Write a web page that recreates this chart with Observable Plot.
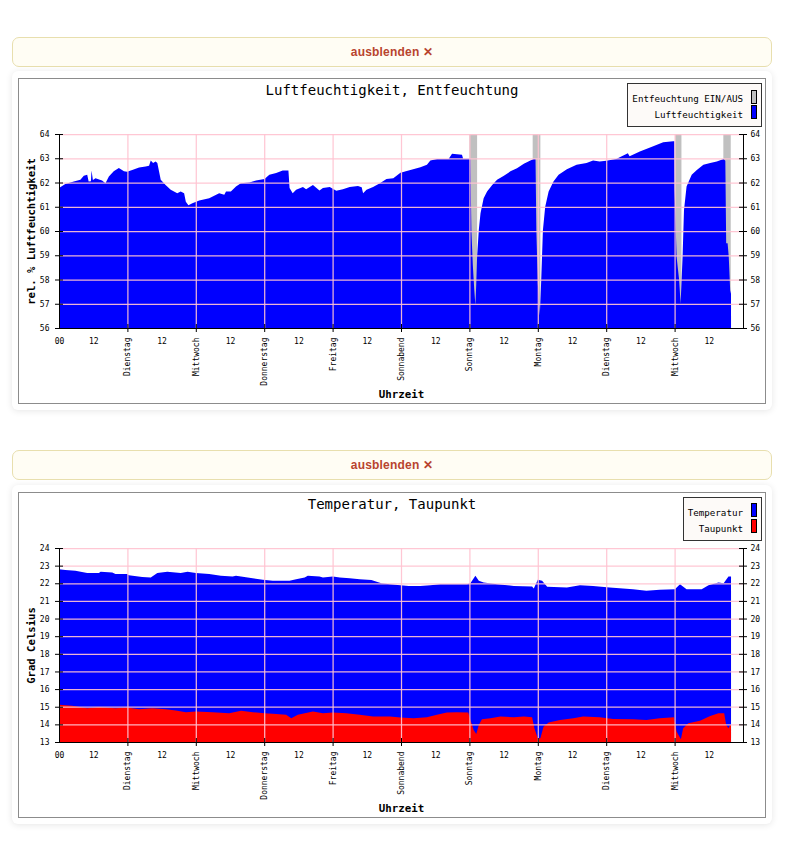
<!DOCTYPE html>
<html>
<head>
<meta charset="utf-8">
<script src="https://cdn.jsdelivr.net/npm/d3@7"></script>
<script src="https://cdn.jsdelivr.net/npm/@observablehq/plot@0.6"></script>
<style>
  html, body { margin: 0; padding: 0; background: #ffffff; width: 788px; height: 843px; overflow: hidden; }
  .btn { position: absolute; left: 12px; width: 760px; height: 30px; box-sizing: border-box;
         border: 1px solid #e8dfae; border-radius: 7px; background: #fffdf4;
         font: bold 12px "Liberation Sans", Arial, sans-serif; color: #b8442e;
         text-align: center; line-height: 28px; letter-spacing: 0.2px; }
  .card { position: absolute; left: 12px; width: 760px; height: 339px; background: #fff;
          border-radius: 6px; box-shadow: 0 1px 7px rgba(0,0,0,0.10); }
  .box { position: absolute; left: 6px; top: 7px; width: 748px; height: 326px; box-sizing: border-box;
         border: 1px solid #8c8c8c; background: #fff; }
  .box svg { position: absolute; left: 0; top: 0; }
  .title { position: absolute; left: 0; top: 3px; width: 746px; text-align: center;
           font: 14px "DejaVu Sans Mono", monospace; color: #000; }
  .legend { position: absolute; right: 3px; top: 4px; height: 44px; box-sizing: border-box;
            border: 1px solid #333; background: #fdfaf8; font: 9.2px "DejaVu Sans Mono", monospace; color: #000; }
  .legend .t { position: absolute; right: 18px; white-space: nowrap; transform: translateY(-50%); }
  .legend .s { position: absolute; right: 4px; width: 6px; height: 14px; box-sizing: border-box; border: 1px solid #000; }
</style>
</head>
<body>
<div class="btn" style="top:37px">ausblenden ✕</div>
<div class="card" style="top:71px"><div class="box" id="box1">
  <div class="title">Luftfeuchtigkeit, Entfeuchtung</div>
</div></div>
<div class="btn" style="top:450px">ausblenden ✕</div>
<div class="card" style="top:484.5px"><div class="box" id="box2">
  <div class="title">Temperatur, Taupunkt</div>
</div></div>
<script>
// ---------- data ----------
// x positions are hours since Monday 00:00
const dayNames = ["Dienstag","Mittwoch","Donnerstag","Freitag","Sonnabend","Sonntag","Montag","Dienstag","Mittwoch"];
const dayTicks = [24, 48, 72, 96, 120, 144, 168, 192, 216];
const hourTicks = [0, 12, 36, 60, 84, 108, 132, 156, 180, 204, 228];
const hourLabels = ["00","12","12","12","12","12","12","12","12","12","12"];
const humTicks = [56, 57, 58, 59, 60, 61, 62, 63, 64];
const tempTicks = [13, 14, 15, 16, 17, 18, 19, 20, 21, 22, 23, 24];

// Luftfeuchtigkeit (rel. %)
const humHours = [0,2.2,5.2,7.5,8.7,9.9,10.4,11.2,11.4,11.9,12.8,15.1,16.3,17.5,19.2,21.0,22.8,23.9,25.7,28.1,30.4,31.6,32.2,33.0,33.9,34.5,35.7,37.4,39.2,41.5,42.7,43.9,44.5,45.4,46.8,49.2,52.7,56.2,58.0,58.6,60.3,62.1,63.8,66.8,69.1,72.1,73.8,76.2,78.5,80.5,80.9,82.0,83.2,85.6,86.7,89.1,91.4,92.6,95.0,97.3,99.6,102.0,104.9,106.2,106.7,107.9,110.2,112.6,114.9,117.3,119.8,123.3,126.8,129.1,130.3,132.7,136.7,137.9,141.4,141.8,144.35,144.7,145.2,145.7,146.1,146.4,146.7,147.3,147.9,149.0,150.2,152.0,153.7,156.1,158.4,160.7,163.1,165.4,166.6,167.2,167.5,168.0,168.7,169.2,169.8,170.6,171.8,173.5,175.3,178.2,181.6,185.1,187.4,189.7,192.0,195.5,199.6,200.2,203.8,208.5,212.0,215.5,215.9,216.0,216.7,217.6,218.1,218.8,219.3,220.2,222.0,223.8,226.1,228.5,230.8,233.2,233.8,234.1,234.6,235.0,235.5,235.8];
const humValues = [61.77,61.94,62.04,62.11,62.28,62.32,62.04,62.05,62.50,62.10,62.18,62.08,61.97,62.25,62.46,62.60,62.46,62.44,62.52,62.62,62.66,62.69,62.91,62.80,62.87,62.80,62.11,61.90,61.70,61.56,61.63,61.56,61.21,61.06,61.14,61.26,61.35,61.56,61.49,61.63,61.63,61.83,61.97,62.00,62.08,62.14,62.32,62.39,62.50,62.50,61.77,61.56,61.70,61.81,61.72,61.90,61.67,61.77,61.81,61.66,61.72,61.81,61.86,61.80,61.56,61.70,61.81,61.97,62.14,62.18,62.40,62.52,62.63,62.73,62.91,62.97,62.97,63.19,63.14,62.98,62.98,60.0,58.6,57.6,56.94,57.8,58.94,60.04,60.73,61.35,61.63,61.90,62.11,62.28,62.46,62.59,62.77,62.91,62.97,62.97,60.0,57.83,56.52,57.97,60.04,61.0,61.63,62.04,62.32,62.55,62.73,62.80,62.91,62.87,62.90,62.97,63.21,63.08,63.28,63.49,63.66,63.70,63.70,61.7,58.94,57.97,57.0,58.94,60.87,61.83,62.32,62.52,62.73,62.80,62.87,62.97,62.90,59.5,59.49,58.94,57.56,57.4];

// Entfeuchtung EIN intervals (hours)
const entfStart = [144.0, 166.2, 216.2, 233.1];
const entfEnd   = [146.7, 168.9, 218.4, 235.7];

// Temperatur (°C)
const tempHours = [0,2.2,5.75,9.9,14.0,14.6,18.7,19.8,23.9,24.5,29.2,32.2,32.7,34.5,38.0,42.7,45.1,48.0,52.7,56.8,60.9,62.1,66.2,71.5,75.0,80.9,83.2,86.2,87.3,91.4,92.6,96.1,98.5,102.0,105.5,109.6,113.1,116.1,119.8,122.7,126.8,130.3,133.8,143.2,144.35,146.1,147.3,149.0,153.7,159.6,166.0,166.6,168.0,169.5,171.3,178.2,182.8,187.4,193.2,201.4,206.1,210.8,216.1,217.9,220.2,225.5,227.9,231.4,233.2,234.9,235.8];
const tempValues = [22.80,22.75,22.71,22.58,22.58,22.65,22.61,22.52,22.52,22.46,22.35,22.33,22.39,22.58,22.65,22.58,22.65,22.58,22.52,22.42,22.39,22.42,22.33,22.20,22.14,22.14,22.23,22.33,22.42,22.39,22.33,22.39,22.33,22.29,22.23,22.18,22.00,21.95,21.89,21.85,21.85,21.89,21.95,21.95,22.00,22.42,22.14,22.04,21.95,21.85,21.82,21.70,22.20,22.15,21.80,21.76,21.89,21.85,21.76,21.66,21.57,21.63,21.66,21.95,21.66,21.66,21.89,22.04,22.00,22.39,22.39];

// Taupunkt (°C)
const dewHours = [0,4.6,9.9,14.0,19.8,23.9,28.1,32.7,37.4,41.0,44.5,48.0,53.9,59.7,63.9,68.0,72.1,75.0,79.7,81.5,83.8,89.1,92.6,96.1,100.8,105.5,110.2,116.1,119.8,124.4,129.1,132.6,136.1,139.6,143.6,144.35,145.5,146.4,147.3,148.4,151.4,154.9,159.6,163.1,166.0,166.8,168.0,168.9,170.0,171.8,175.8,180.5,183.9,189.7,194.4,201.4,206.1,210.8,215.8,216.7,218.2,219.0,220.8,224.9,228.5,231.4,233.4,234.1,234.9,235.5,235.8];
const dewValues = [15.11,15.05,14.92,14.98,14.92,14.96,14.86,14.92,14.86,14.79,14.69,14.73,14.69,14.63,14.77,14.69,14.63,14.60,14.54,14.35,14.54,14.73,14.63,14.67,14.63,14.54,14.44,14.44,14.39,14.35,14.41,14.54,14.67,14.69,14.67,14.25,13.68,13.46,13.97,14.29,14.35,14.44,14.41,14.44,14.41,13.78,13.21,13.21,13.87,14.10,14.25,14.35,14.44,14.41,14.31,14.29,14.25,14.35,14.41,13.59,13.15,13.78,14.06,14.21,14.48,14.63,14.63,13.97,13.78,13.97,13.97];

// ---------- tables ----------
const hum = humHours.map((h, i) => ({h, v: humValues[i]}));
const temp = tempHours.map((h, i) => ({h, v: tempValues[i]}));
const dew = dewHours.map((h, i) => ({h, v: dewValues[i]}));
const entf = entfStart.map((s, i) => ({s, e: entfEnd[i]}));

const gridColor = "#ffc2d0";

function chart(yDomain, yTicks, yLabel, layers) {
  const y0 = yDomain[0];
  return Plot.plot({
    width: 746, height: 324,
    marginLeft: 40, marginRight: 22, marginTop: 55, marginBottom: 75,
    x: {domain: [0, 240], axis: null, label: null},
    y: {domain: yDomain, axis: null, label: null},
    style: {fontFamily: "'DejaVu Sans Mono', monospace", fontSize: "8px", background: "transparent", color: "#000", overflow: "visible"},
    marks: [
      ...layers,
      Plot.gridY(yTicks.slice(1), {stroke: gridColor, strokeOpacity: 0.92, strokeWidth: 1.25}),
      Plot.gridX(dayTicks, {stroke: gridColor, strokeOpacity: 0.92, strokeWidth: 1.25}),
      Plot.ruleX([0, 240], {stroke: "#000", strokeWidth: 1}),
      Plot.ruleY([y0], {stroke: "#000", strokeWidth: 1}),
      Plot.ruleY(yTicks, {x1: 0, x2: 0, insetLeft: -4, insetRight: -4, stroke: "#000"}),
      Plot.ruleY(yTicks, {x1: 240, x2: 240, insetLeft: -4, insetRight: -4, stroke: "#000"}),
      Plot.ruleX(dayTicks, {y1: y0, y2: y0, insetTop: -4, insetBottom: -4, stroke: "#000"}),
      Plot.axisY(yTicks, {anchor: "left", tickSize: 0, tickPadding: 10, fontSize: 8, label: null}),
      Plot.axisY(yTicks, {anchor: "right", tickSize: 0, tickPadding: 7, fontSize: 8, label: null}),
      Plot.axisX(hourTicks, {anchor: "bottom", tickSize: 0, tickPadding: 10, fontSize: 8, label: null,
        tickFormat: d => hourLabels[hourTicks.indexOf(d)]}),
      Plot.axisX(dayTicks, {anchor: "bottom", tickSize: 0, tickPadding: 9, fontSize: 8, tickRotate: -90, label: null,
        tickFormat: d => dayNames[dayTicks.indexOf(d)]}),
      Plot.text([yLabel], {frameAnchor: "left", textAnchor: "middle", rotate: -90, dx: -28, fontWeight: "bold", fontSize: 10.6}),
      Plot.text(["Uhrzeit"], {frameAnchor: "bottom", dy: 69, fontWeight: "bold", fontSize: 10.8})
    ]
  });
}

const c1 = chart([56, 64], humTicks, "rel. % Luftfeuchtigkeit", [
  Plot.rect(entf, {x1: "s", x2: "e", y1: 56, y2: 64, fill: "#c0c0c0"}),
  Plot.areaY(hum, {x: "h", y1: 56, y2: "v", fill: "#0000ff"})
]);
const c2 = chart([13, 24], tempTicks, "Grad Celsius", [
  Plot.areaY(temp, {x: "h", y1: 13, y2: "v", fill: "#0000ff"}),
  Plot.areaY(dew, {x: "h", y1: 13, y2: "v", fill: "#ff0000"})
]);

const box1 = document.getElementById("box1");
const box2 = document.getElementById("box2");
box1.appendChild(c1);
box2.appendChild(c2);

function legend(box, width, items) {
  const lg = document.createElement("div");
  lg.className = "legend";
  lg.style.width = width + "px";
  const tops = [[14.4, 5.7], [30, 21.4]];
  items.forEach((it, i) => {
    const t = document.createElement("div");
    t.className = "t"; t.textContent = it[0]; t.style.top = tops[i][0] + "px";
    const s = document.createElement("div");
    s.className = "s"; s.style.background = it[1]; s.style.top = tops[i][1] + "px";
    lg.appendChild(t); lg.appendChild(s);
  });
  box.appendChild(lg);
}
legend(box1, 135, [["Entfeuchtung EIN/AUS", "#c0c0c0"], ["Luftfeuchtigkeit", "#0000ff"]]);
legend(box2, 79, [["Temperatur", "#0000ff"], ["Taupunkt", "#ff0000"]]);
</script>
</body>
</html>
